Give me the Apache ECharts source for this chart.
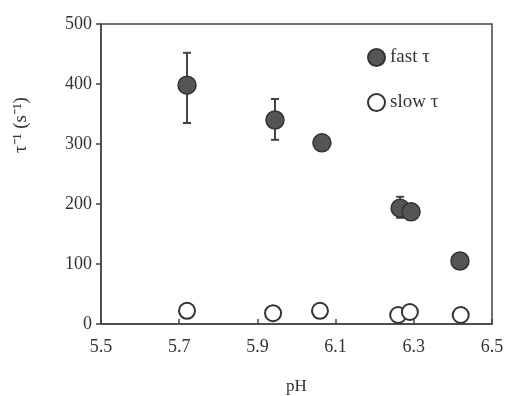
<!DOCTYPE html>
<html><head><meta charset="utf-8">
<script src="https://cdn.jsdelivr.net/npm/echarts@6/dist/echarts.min.js"></script>
<style>html,body{margin:0;padding:0;background:#fff}#c{width:505px;height:396px}</style>
</head><body><div id="c"></div>
<script>
const xTicks = [5.5, 5.7, 5.9, 6.1, 6.3, 6.5];
const yTicks = [0, 100, 200, 300, 400, 500];
const fastPH = [5.72, 5.945, 6.065, 6.265, 6.293, 6.418];
const fastRate = [398, 340, 302, 193, 187, 105];
const fastErrLow = [335, 307, null, 177, null, null];
const fastErrHigh = [452, 375, null, 212, null, null];
const slowPH = [5.72, 5.94, 6.06, 6.26, 6.29, 6.42];
const slowRate = [22, 18, 22, 15, 20, 15];

const font = 'Liberation Serif';
const chart = echarts.init(document.getElementById('c'));
const errData = [];
fastPH.forEach((x, i) => { if (fastErrLow[i] != null) errData.push([x, fastErrLow[i], fastErrHigh[i]]); });

chart.setOption({
  animation: false,
  grid: {left: 101, right: 13, top: 24, bottom: 72, show: true, borderColor: '#444', borderWidth: 1.5, outerBoundsMode: 'none', containLabel: false},
  legend: {
    orient: 'vertical', left: 362, top: 43, itemGap: 26, itemWidth: 17, itemHeight: 17,
    textStyle: {fontFamily: font, fontSize: 19, color: '#333'},
    data: [{name: 'fast τ', icon: 'circle'}, {name: 'slow τ', icon: 'circle'}]
  },
  xAxis: {
    type: 'value', min: xTicks[0], max: xTicks[xTicks.length - 1], interval: 0.2,
    name: 'pH', nameLocation: 'middle', nameGap: 54,
    nameTextStyle: {fontFamily: font, fontSize: 17, color: '#333'},
    axisLine: {lineStyle: {color: '#444', width: 1.5}},
    axisTick: {inside: true, length: 5, lineStyle: {color: '#444', width: 1.5}},
    axisLabel: {fontFamily: font, fontSize: 18, color: '#333', margin: 14, formatter: v => v.toFixed(1)},
    splitLine: {show: false}
  },
  yAxis: {
    type: 'value', min: yTicks[0], max: yTicks[yTicks.length - 1], interval: 100,
    name: 'τ⁻¹ (s⁻¹)', nameLocation: 'middle', nameGap: 70, nameRotate: 90,
    nameTextStyle: {fontFamily: font, fontSize: 19, color: '#333', padding: [0, 0, 0, 98]},
    axisLine: {lineStyle: {color: '#444', width: 1.5}},
    axisTick: {inside: false, length: 5, lineStyle: {color: '#444', width: 1.5}},
    axisLabel: {fontFamily: font, fontSize: 18, color: '#333', margin: 9},
    splitLine: {show: false}
  },
  series: [
    {
      type: 'custom', name: 'err', silent: true, z: 1,
      data: errData,
      renderItem: (params, api) => {
        const x = api.value(0);
        const lo = api.coord([x, api.value(1)]);
        const hi = api.coord([x, api.value(2)]);
        const w = 4;
        const st = {stroke: '#444', lineWidth: 2};
        return {type: 'group', children: [
          {type: 'line', shape: {x1: lo[0], y1: lo[1], x2: hi[0], y2: hi[1]}, style: st},
          {type: 'line', shape: {x1: lo[0] - w, y1: lo[1], x2: lo[0] + w, y2: lo[1]}, style: st},
          {type: 'line', shape: {x1: hi[0] - w, y1: hi[1], x2: hi[0] + w, y2: hi[1]}, style: st}
        ]};
      }
    },
    {
      type: 'scatter', name: 'fast τ', z: 3, symbol: 'circle', symbolSize: 18,
      itemStyle: {color: '#555', borderColor: '#333', borderWidth: 1.5, opacity: 1},
      data: fastPH.map((x, i) => [x, fastRate[i]])
    },
    {
      type: 'scatter', name: 'slow τ', z: 3, symbol: 'circle', symbolSize: 16,
      itemStyle: {color: '#fff', borderColor: '#333', borderWidth: 2, opacity: 1},
      data: slowPH.map((x, i) => [x, slowRate[i]])
    }
  ]
});
</script></body></html>
